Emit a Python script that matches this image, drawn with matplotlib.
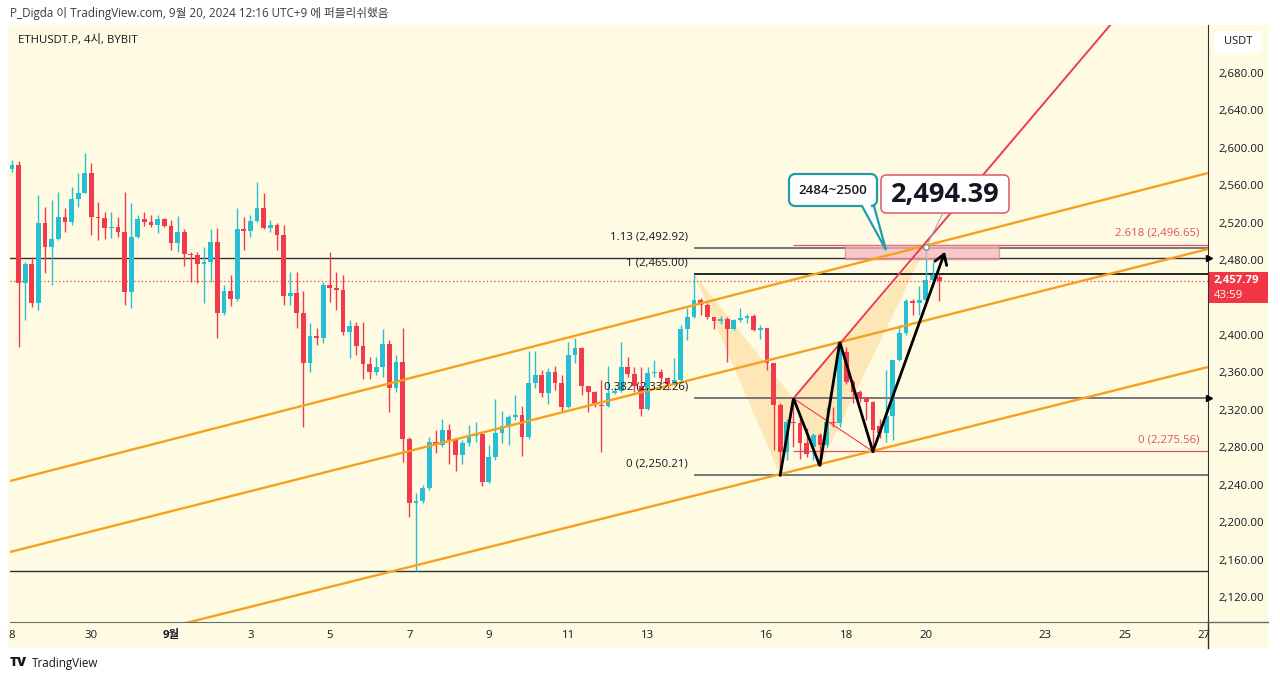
import numpy as np
import matplotlib.pyplot as plt
from matplotlib.patches import Rectangle, Polygon, FancyBboxPatch
from matplotlib.lines import Line2D
from matplotlib.transforms import Affine2D

plt.rcParams['font.family'] = ['Open Sans', 'Noto Sans CJK KR', 'DejaVu Sans']

W, H = 1280, 681
CREAM = '#fffbe3'
UP = '#27bfd4'
DOWN = '#f23a4f'
ORANGE = '#f7a01c'
FIBRED = '#e0505f'
INK = '#131722'
TEAL = '#1f9daa'

# ETHUSDT.P 4h candles, first one on Aug 28 (day 0), 6 candles a day
opens = [2577, 2582, 2456, 2476, 2434, 2520, 2494, 2503, 2526, 2521,
         2545, 2552, 2573, 2526, 2525, 2514, 2515, 2510, 2446, 2505,
         2524, 2521, 2518, 2524, 2516, 2498, 2510, 2487, 2485, 2476,
         2478, 2499, 2423, 2447, 2439, 2513, 2511, 2522, 2536, 2514,
         2518, 2507, 2442, 2445, 2423, 2370, 2399, 2397, 2453, 2450,
         2448, 2403, 2410, 2388, 2369, 2361, 2366, 2390, 2343, 2371,
         2289, 2220, 2223, 2236, 2286, 2282, 2298, 2288, 2272, 2285,
         2292, 2294, 2243, 2270, 2295, 2303, 2312, 2315, 2291, 2349,
         2357, 2338, 2360, 2349, 2323, 2379, 2386, 2345, 2339, 2325,
         2324, 2338, 2340, 2366, 2358, 2345, 2321, 2359, 2361, 2354,
         2348, 2352, 2406, 2419, 2437, 2432, 2419, 2415, 2417, 2406,
         2416, 2418, 2420, 2405, 2408, 2370, 2325, 2275, 2307, 2306,
         2285, 2280, 2293, 2282, 2307, 2306, 2382, 2350, 2339, 2333,
         2328, 2303, 2295, 2313, 2373, 2402, 2436, 2434, 2437, 2459,
         2462]
highs = [2587, 2586, 2478, 2483, 2550, 2537, 2544, 2553, 2536, 2558,
         2573, 2595, 2584, 2542, 2531, 2531, 2526, 2553, 2541, 2528,
         2531, 2528, 2528, 2525, 2523, 2527, 2513, 2489, 2489, 2494,
         2513, 2514, 2453, 2464, 2536, 2526, 2528, 2564, 2552, 2523,
         2520, 2518, 2467, 2467, 2447, 2413, 2408, 2457, 2489, 2467,
         2464, 2416, 2414, 2414, 2376, 2376, 2406, 2395, 2379, 2407,
         2291, 2231, 2240, 2291, 2298, 2310, 2305, 2290, 2288, 2304,
         2307, 2296, 2282, 2332, 2319, 2314, 2336, 2324, 2383, 2383,
         2363, 2365, 2367, 2357, 2392, 2397, 2387, 2346, 2340, 2352,
         2367, 2344, 2392, 2376, 2366, 2366, 2366, 2373, 2364, 2355,
         2375, 2411, 2429, 2465, 2440, 2434, 2419, 2420, 2419, 2417,
         2429, 2422, 2422, 2411, 2408, 2370, 2327, 2310, 2332, 2312,
         2301, 2295, 2295, 2323, 2323, 2392.5, 2387, 2352, 2341, 2334,
         2330, 2310, 2363, 2373, 2411, 2439, 2439, 2452, 2494.39, 2478,
         2465]
lows = [2574, 2387, 2416, 2430, 2427, 2466, 2453, 2502, 2510, 2518,
        2537, 2552, 2507, 2502, 2503, 2504, 2505, 2432, 2429, 2504,
        2516, 2515, 2509, 2515, 2491, 2489, 2474, 2457, 2456, 2434,
        2457, 2397, 2421, 2431, 2436, 2491, 2505, 2521, 2513, 2510,
        2491, 2432, 2432, 2408, 2302, 2360, 2389, 2391, 2435, 2427,
        2400, 2375, 2379, 2353, 2353, 2357, 2355, 2318, 2339, 2264,
        2205, 2148, 2220, 2234, 2274, 2280, 2262, 2255, 2262, 2281,
        2286, 2239, 2242, 2266, 2285, 2282, 2309, 2271, 2289, 2343,
        2334, 2326, 2341, 2318, 2322, 2370, 2336, 2318, 2323, 2275,
        2323, 2337, 2339, 2355, 2339, 2313, 2320, 2355, 2348, 2341,
        2347, 2350, 2395, 2418, 2421, 2417, 2406, 2412, 2371, 2405,
        2414, 2413, 2404, 2396, 2363, 2277, 2250.21, 2266, 2280, 2268,
        2270, 2266, 2260, 2280, 2302, 2302, 2348, 2327, 2328, 2309,
        2275.56, 2290, 2286, 2288, 2372, 2400, 2421, 2421, 2434, 2455,
        2436]
closes = [2582, 2456, 2476, 2434, 2520, 2494, 2503, 2526, 2521, 2545,
          2552, 2573, 2526, 2525, 2514, 2515, 2510, 2446, 2505, 2524,
          2521, 2518, 2524, 2516, 2498, 2510, 2487, 2485, 2476, 2478,
          2499, 2423, 2447, 2439, 2513, 2511, 2522, 2536, 2514, 2518,
          2507, 2442, 2445, 2423, 2370, 2399, 2397, 2453, 2450, 2448,
          2403, 2410, 2388, 2369, 2361, 2366, 2390, 2343, 2371, 2289,
          2220, 2223, 2236, 2286, 2282, 2298, 2288, 2272, 2285, 2292,
          2294, 2243, 2270, 2295, 2303, 2312, 2315, 2291, 2349, 2357,
          2338, 2360, 2349, 2323, 2379, 2386, 2345, 2339, 2325, 2324,
          2338, 2340, 2366, 2358, 2345, 2321, 2359, 2361, 2354, 2348,
          2352, 2406, 2419, 2437, 2432, 2419, 2415, 2417, 2406, 2416,
          2418, 2420, 2405, 2408, 2370, 2325, 2275, 2307, 2306, 2285,
          2273, 2293, 2282, 2307, 2306, 2391, 2350, 2339, 2333, 2328,
          2299, 2295, 2313, 2373, 2402, 2436, 2434, 2437, 2459, 2464,
          2457.79]
last_price = 2457.79

# x tick labels (day index from Aug 28)
tick_days = [0, 2, 4, 6, 8, 10, 12, 14, 16, 19, 21, 23, 26, 28, 30]
tick_text = ['8', '30', '9월', '3', '5', '7', '9', '11', '13', '16', '18', '20', '23', '25', '27']
# 2,440 sits under the price tag and is not shown
price_ticks = [2120, 2160, 2200, 2240, 2280, 2320, 2360, 2400, 2480, 2520, 2560, 2600, 2640, 2680]

# horizontal levels
full_levels = [2482.3, 2147.8]
fib_levels = [2250.21, 2332.26, 2465.00, 2492.92]
fib_labels = ['0 (2,250.21)', '0.382 (2,332.26)', '1 (2,465.00)', '1.13 (2,492.92)']
fib_start = 17.167
red_levels = [2275.56, 2496.65]
red_labels = ['0 (2,275.56)', '2.618 (2,496.65)']
red_start = 19.667

# orange channel lines (start day, start price, end day, end price)
channel = [(-0.05, 2244.0, 30.1, 2573.1),
           (-0.05, 2168.1, 30.1, 2491.9),
           (-0.05, 2045.2, 30.1, 2365.8)]

# harmonic pattern points and black zigzag
pat_t = [17.167, 19.333, 19.667, 20.333, 23.0]
pat_p = [2465.0, 2250.21, 2332.26, 2260.0, 2494.39]
zz_t = [19.333, 19.667, 20.333, 20.833, 21.667]
zz_p = [2250.21, 2332.26, 2260.0, 2392.5, 2275.56]
arrow_tip = (23.48, 2489.0)
red_trend = [(19.667, 2332.26), (27.64, 2731.3)]
red_thin = [(19.667, 2332.26), (21.667, 2275.56)]
zone = (20.97, 24.84, 2481.0, 2496.0)

fig = plt.figure(figsize=(W / 100, H / 100), dpi=100)
pix = Affine2D().scale(1 / W, -1 / H).translate(0, 1) + fig.transFigure

fig.patches.append(Rectangle((8, 25), 1260, 623, transform=pix, fc=CREAM, ec='none', zorder=-5))

ax = fig.add_axes([10 / W, 1 - 622 / H, 1198 / W, 597 / H])
ax.set_facecolor(CREAM)
ax.set_xlim(-0.05, 30.1)
ax.set_ylim(2093.3, 2731.3)

# candles
o = np.array(opens, float)
h = np.array(highs, float)
l = np.array(lows, float)
c = np.array(closes, float)
t = np.arange(len(o)) / 6.0
col = np.where(c >= o, UP, DOWN)
ax.vlines(t, l, h, colors=col, lw=1, zorder=3)
body = np.maximum(np.abs(c - o), 1.2)
ax.bar(t, body, bottom=np.minimum(o, c), width=0.12, color=col, zorder=4)

# levels
for lv in full_levels:
    ax.axhline(lv, color='#2f3137', lw=1, zorder=2)
ax.axhline(last_price, color=DOWN, lw=0.9, ls=(0, (1, 2)), zorder=2)
for lv, lab in zip(fib_levels, fib_labels):
    lc = 'black' if lab.startswith('1 ') else '#5f6167'
    ax.hlines(lv, fib_start, 30.2, color=lc, lw=1.2, zorder=2)
    ax.annotate(lab, xy=(fib_start, lv), xytext=(-4.5, 8), textcoords='offset points',
                ha='right', va='center', fontsize=8.2, color=INK, zorder=6)
for lv, lab in zip(red_levels, red_labels):
    ax.hlines(lv, red_start, 30.2, color=FIBRED, lw=0.9, zorder=2)
    ax.annotate(lab, xy=(30.1, lv), xytext=(-6, 8), textcoords='offset points',
                ha='right', va='center', fontsize=8.2, color=FIBRED, zorder=6)

# pattern shading
for idx in ([0, 1, 2], [2, 3, 4]):
    ax.add_patch(Polygon([(pat_t[i], pat_p[i]) for i in idx], closed=True,
                         fc=ORANGE, alpha=0.22, ec='none', zorder=1))

# orange channel
for x0, y0, x1, y1 in channel:
    ax.plot([x0, x1], [y0, y1], color=ORANGE, lw=1.7, zorder=5, solid_capstyle='butt')

# red lines
ax.plot(*zip(*red_trend), color='#ec3d4f', lw=1.4, zorder=5)
ax.plot(*zip(*red_thin), color='#ec3d4f', lw=0.8, zorder=5)

# target zone
ax.add_patch(Rectangle((zone[0], zone[2]), zone[1] - zone[0], zone[3] - zone[2],
                       fc='#f5b3bc', ec='#e07b88', lw=1, alpha=0.7, zorder=4))

# zigzag + arrow
ax.plot(zz_t, zz_p, color='black', lw=2, zorder=7, solid_joinstyle='miter')
ax.annotate('', xy=arrow_tip, xytext=(zz_t[-1], zz_p[-1]),
            arrowprops=dict(arrowstyle='->,head_length=0.7,head_width=0.45', color='black',
                            lw=2, shrinkA=0, shrinkB=0), zorder=7)

# axes styling
for s in ['top', 'left']:
    ax.spines[s].set_visible(False)
ax.spines['right'].set_color('#2f3137')
ax.spines['bottom'].set_color('#6b6b6b')
ax.yaxis.tick_right()
ax.set_yticks(price_ticks)
ax.set_yticklabels([f'{v:,.2f}' for v in price_ticks])
ax.tick_params(axis='y', length=0, pad=7.5, labelsize=8.2, labelcolor=INK)
ax.set_xticks(tick_days)
ax.set_xticklabels(tick_text)
ax.tick_params(axis='x', length=0, pad=6, labelsize=8.2, labelcolor=INK)
ax.get_xticklabels()[2].set_fontweight('bold')

# extra frame lines
fig.lines.append(Line2D([1208, 1208], [622, 648], transform=pix, color='#2f3137', lw=1))
fig.lines.append(Line2D([1208, 1268], [622, 622], transform=pix, color='#6b6b6b', lw=1))

# axis markers
ax.plot([30.13], [full_levels[0]], marker='>', ms=4.5, color='black', clip_on=False, zorder=8)
ax.plot([30.13], [fib_levels[1]], marker='>', ms=4.5, color='black', clip_on=False, zorder=8)


def callout(x0, y0, x1, y1, r, ec, lw, tail=None):
    def arc(cx, cy, a0, a1):
        a = np.radians(np.linspace(a0, a1, 8))
        return list(zip(cx + r * np.cos(a), cy + r * np.sin(a)))
    pts = arc(x1 - r, y0 + r, -90, 0) + arc(x1 - r, y1 - r, 0, 90)
    if tail:
        pts += [(tail[1], y1), tail[2], (tail[0], y1)]
    pts += arc(x0 + r, y1 - r, 90, 180) + arc(x0 + r, y0 + r, 180, 270)
    ax.add_patch(Polygon(pts, closed=True, transform=pix, fc='white', ec=ec, lw=lw,
                         clip_on=False, zorder=9))


callout(789, 174, 877, 206, 6, TEAL, 1.6, tail=(862, 874, (886, 250)))
ax.text(833, 190, '2484~2500', transform=pix, ha='center', va='center', fontsize=9.5,
        fontweight='semibold', color=INK, zorder=10)
callout(881, 175, 1009, 213, 5, '#e0566a', 1.1)
ax.text(945, 195, '2,494.39', transform=pix, ha='center', va='center', fontsize=19.5,
        fontweight='bold', color=INK, zorder=10)
ax.plot([943, 926], [213, 247], transform=pix, color='#9aa7c0', lw=0.8, zorder=9, clip_on=False)
ax.plot([pat_t[4]], [pat_p[4]], marker='o', ms=4, mfc='white', mec='#8a8a8a', mew=1, zorder=9)

# price tag
ax.add_patch(Rectangle((1209, 272), 59, 31, transform=pix, fc='#f23645', ec='none',
                       clip_on=False, zorder=9))
ax.text(1214, 281, f'{last_price:,.2f}', transform=pix, ha='left', va='center', fontsize=8.2,
        fontweight='bold', color='white', zorder=10)
ax.text(1214, 295, '43:59', transform=pix, ha='left', va='center', fontsize=8.2,
        color='white', zorder=10)

# USDT box
fig.patches.append(FancyBboxPatch((1214, 31), 48, 22, boxstyle='round,pad=0,rounding_size=3',
                                  transform=pix, fc='white', ec='none', zorder=3))
fig.text(1238 / W, 1 - 42 / H, 'USDT', ha='center', va='center', fontsize=8, color=INK, zorder=4)

# header / titles
fig.text(10 / W, 1 - 13 / H, 'P_Digda 이 TradingView.com, 9월 20, 2024 12:16 UTC+9 에 퍼블리쉬했음',
         ha='left', va='center', fontsize=8.4, color='#3c3c3c')
ax.text(18, 40, 'ETHUSDT.P, 4시, BYBIT', transform=pix, ha='left', va='center', fontsize=8.2,
        color=INK, zorder=10)
fig.text(10 / W, 1 - 663 / H, 'TV', ha='left', va='center', fontsize=9.5, fontweight='heavy',
         color=INK)
fig.text(32 / W, 1 - 663 / H, 'TradingView', ha='left', va='center', fontsize=8.4, color=INK)

fig.savefig('out.png', dpi=100, facecolor='white')
